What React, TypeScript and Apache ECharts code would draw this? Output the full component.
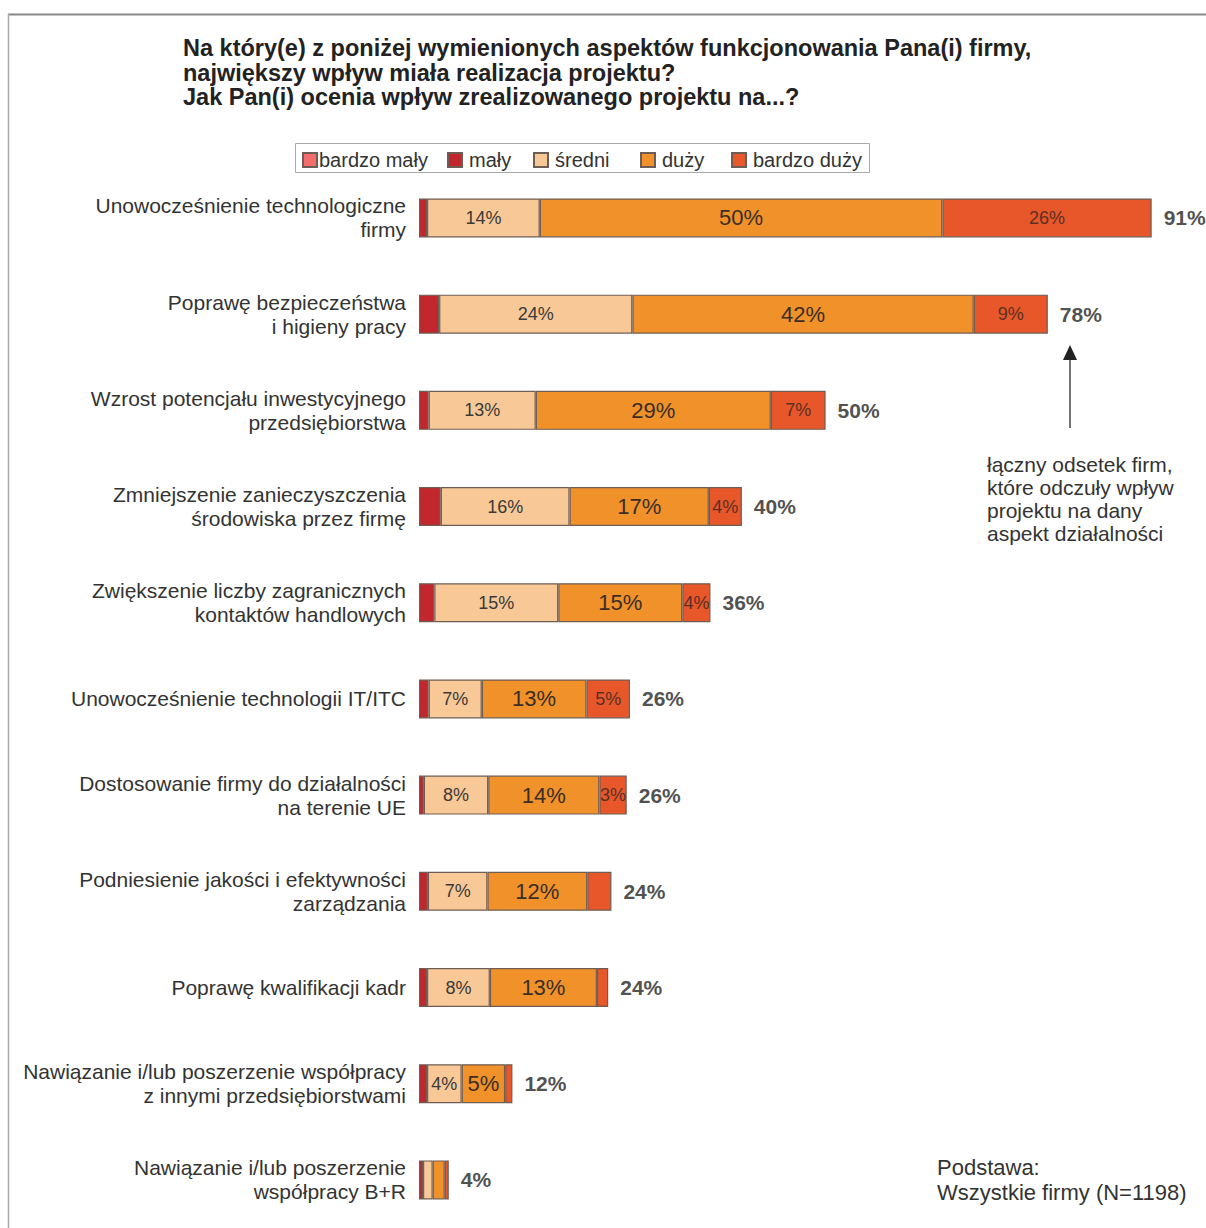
import React, { useEffect, useRef } from "react";
import * as echarts from "echarts";

const categories = [
  "Unowocześnienie technologiczne\nfirmy",
  "Poprawę bezpieczeństwa\ni higieny pracy",
  "Wzrost potencjału inwestycyjnego\nprzedsiębiorstwa",
  "Zmniejszenie zanieczyszczenia\nśrodowiska przez firmę",
  "Zwiększenie liczby zagranicznych\nkontaktów handlowych",
  "Unowocześnienie technologii IT/ITC",
  "Dostosowanie firmy do działalności\nna terenie UE",
  "Podniesienie jakości i efektywności\nzarządzania",
  "Poprawę kwalifikacji kadr",
  "Nawiązanie i/lub poszerzenie współpracy\nz innymi przedsiębiorstwami",
  "Nawiązanie i/lub poszerzenie\nwspółpracy B+R",
];

const seriesNames = ["bardzo mały", "mały", "średni", "duży", "bardzo duży"];
const bardzoMaly = [0, 0, 0, 0, 0, 0, 0, 0, 0, 0, 0];
const maly = [1, 2.5, 1.2, 2.7, 1.9, 1.2, 0.6, 1.1, 1, 1, 0.5];
const sredni = [14, 24, 13.3, 16, 15.4, 6.6, 8, 7.4, 7.8, 4.3, 1.2];
const duzy = [50, 42.4, 29.2, 17.3, 15.4, 13, 13.8, 12.4, 13.3, 5.4, 1.5];
const bardzoDuzy = [26, 9.2, 6.8, 4.1, 3.5, 5.4, 3.4, 3, 1.4, 0.9, 0.5];
const totals = [91, 78, 50, 40, 36, 26, 26, 24, 24, 12, 4];

const sredniHidden = [10];
const duzyHidden = [10];
const bardzoDuzyHidden = [7, 8, 9, 10];

const colors = ["#f26d6b", "#c1272d", "#f9c897", "#f0912a", "#e8572a"];
const FONT = "'Liberation Sans', Arial, sans-serif";

export default function App() {
  const ref = useRef<HTMLDivElement>(null);
  useEffect(() => {
    if (!ref.current) return;
    const chart = echarts.init(ref.current, null, { renderer: "svg" });

    const mk = (vals: number[], hidden: number[]) =>
      vals.map((v, i) =>
        v === 0
          ? "-"
          : hidden.includes(i)
          ? { value: v, label: { show: false } }
          : v
      );

    const barBase = (name: string, idx: number, data: any[], label: any) => ({
      name,
      type: "bar",
      stack: "all",
      barWidth: 39,
      data,
      itemStyle: {
        color: colors[idx],
        borderColor: "#6e5d54",
        borderWidth: 1.2,
      },
      label,
      emphasis: { disabled: true },
    });

    const pctFmt = (p: any) => Math.round(p.value) + "%";

    const totalPos = totals.map((_, i) => [
      maly[i] + sredni[i] + duzy[i] + bardzoDuzy[i] + bardzoMaly[i],
      i,
    ]);

    const legendLefts = [302, 447, 533, 640, 731];

    const option: any = {
      animation: false,
      textStyle: { fontFamily: FONT },
      grid: { left: 419, top: 169.85, width: 781, height: 1059.3 },
      xAxis: { type: "value", min: 0, max: 97, show: false },
      yAxis: {
        type: "category",
        data: categories,
        inverse: true,
        axisLine: { show: false },
        axisTick: { show: false },
        axisLabel: {
          margin: 13,
          fontSize: 21,
          lineHeight: 24,
          color: "#333",
          fontFamily: FONT,
          align: "right",
        },
      },
      legend: seriesNames.map((n, i) => ({
        data: [n],
        left: legendLefts[i],
        top: 150,
        padding: 0,
        itemWidth: 14,
        itemHeight: 14,
        icon: "rect",
        selectedMode: false,
        textStyle: {
          fontSize: 20,
          color: "#333",
          fontFamily: FONT,
          padding: [0, 0, 0, i === 0 ? -3 : 2],
        },
      })),
      series: [
        barBase(seriesNames[0], 0, mk(bardzoMaly, []), { show: false }),
        barBase(seriesNames[1], 1, mk(maly, []), { show: false }),
        barBase(seriesNames[2], 2, mk(sredni, sredniHidden), {
          show: true,
          position: "inside",
          fontSize: 18,
          color: "#3a3a3a",
          fontFamily: FONT,
          formatter: pctFmt,
        }),
        barBase(seriesNames[3], 3, mk(duzy, duzyHidden), {
          show: true,
          position: "inside",
          fontSize: 22,
          color: "#3a2e26",
          fontFamily: FONT,
          formatter: pctFmt,
        }),
        barBase(seriesNames[4], 4, mk(bardzoDuzy, bardzoDuzyHidden), {
          show: true,
          position: "inside",
          fontSize: 18,
          color: "#5a3024",
          fontFamily: FONT,
          formatter: pctFmt,
        }),
        {
          type: "scatter",
          data: totalPos,
          symbolSize: 0,
          silent: true,
          label: {
            show: true,
            position: "right",
            distance: 12,
            fontSize: 21,
            fontWeight: "bold",
            color: "#222",
            fontFamily: FONT,
            formatter: (p: any) => totals[p.dataIndex] + "%",
          },
          z: 10,
        },
      ],
      graphic: [
        {
          type: "line",
          shape: { x1: 8, y1: 14.5, x2: 1206, y2: 14.5 },
          style: { stroke: "#888", lineWidth: 2 },
        },
        {
          type: "line",
          shape: { x1: 8.5, y1: 14, x2: 8.5, y2: 1228 },
          style: { stroke: "#aaa", lineWidth: 1.5 },
        },
        {
          type: "text",
          left: 183,
          top: 36,
          style: {
            text:
              "Na który(e) z poniżej wymienionych aspektów funkcjonowania Pana(i) firmy,\nnajwiększy wpływ miała realizacja projektu?\nJak Pan(i) ocenia wpływ zrealizowanego projektu na...?",
            fontSize: 23.5,
            fontWeight: "bold",
            lineHeight: 24.5,
            fill: "#222",
            fontFamily: FONT,
          },
        },
        {
          type: "rect",
          shape: { x: 295.5, y: 143.5, width: 574, height: 29 },
          style: { fill: "none", stroke: "#aaa", lineWidth: 1 },
        },
        {
          type: "line",
          shape: { x1: 1070, y1: 428, x2: 1070, y2: 356 },
          style: { stroke: "#444", lineWidth: 1.5 },
        },
        {
          type: "polygon",
          shape: { points: [[1070, 345], [1063, 360], [1077, 360]] },
          style: { fill: "#222" },
        },
        {
          type: "text",
          left: 987,
          top: 453,
          style: {
            text: "łączny odsetek firm,\nktóre odczuły wpływ\nprojektu na dany\naspekt działalności",
            fontSize: 21,
            lineHeight: 23,
            fill: "#333",
            fontFamily: FONT,
          },
        },
        {
          type: "text",
          left: 937,
          top: 1155,
          style: {
            text: "Podstawa:\nWszystkie firmy (N=1198)",
            fontSize: 22,
            lineHeight: 25,
            fill: "#333",
            fontFamily: FONT,
          },
        },
      ],
    };
    chart.setOption(option);
    return () => chart.dispose();
  }, []);
  return (
    <div
      ref={ref}
      style={{
        position: "fixed",
        left: 0,
        top: 0,
        width: 1206,
        height: 1228,
        background: "#fff",
      }}
    />
  );
}
